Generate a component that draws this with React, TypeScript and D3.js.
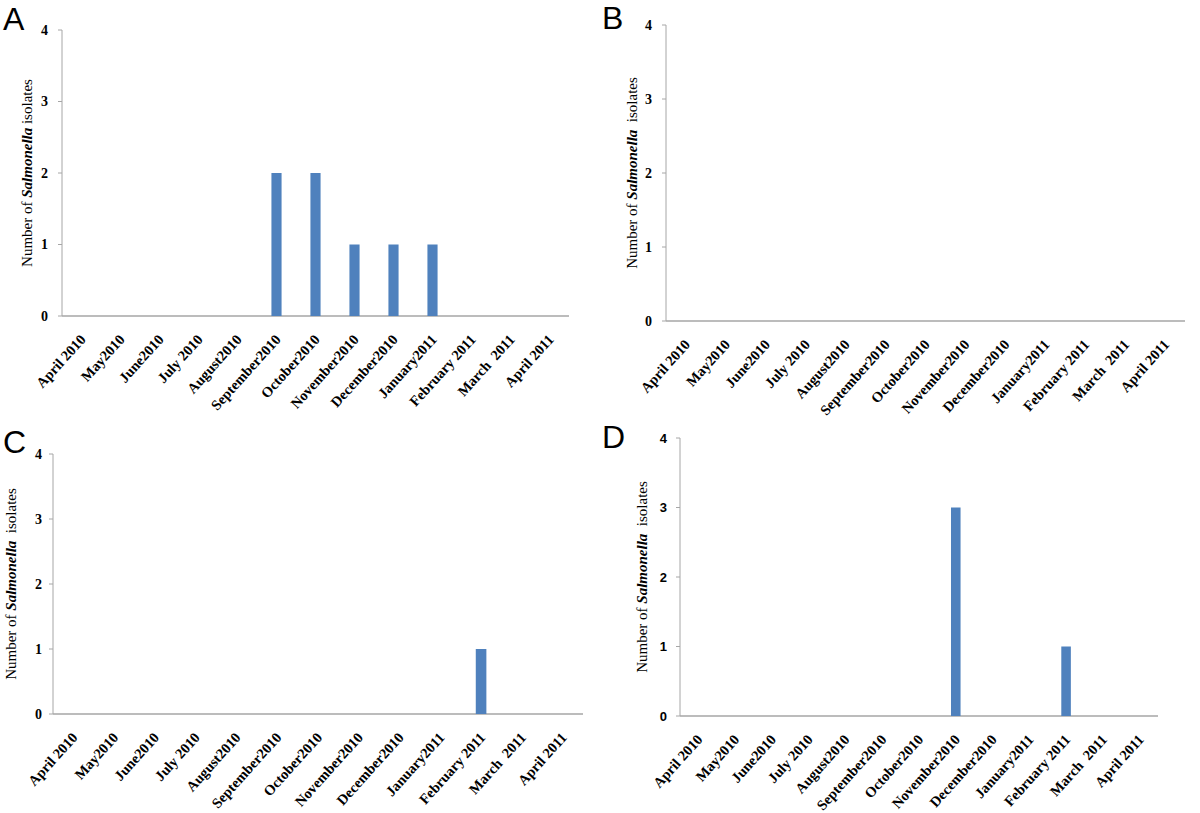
import React from "react";
import * as d3 from "d3";

const months = [
  "April 2010", "May2010", "June2010", "July 2010", "August2010", "September2010",
  "October2010", "November2010", "December2010", "January2011", "February 2011",
  "March  2011", "April 2011",
];
const yTicks = [0, 1, 2, 3, 4];
const valuesA = [0, 0, 0, 0, 0, 2, 2, 1, 1, 1, 0, 0, 0];
const valuesB = [0, 0, 0, 0, 0, 0, 0, 0, 0, 0, 0, 0, 0];
const valuesC = [0, 0, 0, 0, 0, 0, 0, 0, 0, 0, 1, 0, 0];
const valuesD = [0, 0, 0, 0, 0, 0, 0, 3, 0, 0, 1, 0, 0];

const panels = [
  { letter: "A", values: valuesA, x0: 62, x1: 569, top: 30, zero: 316, titleX: 32, lx: 3, ly: 30, tickOff: 14, sansTicks: false, gap: " " },
  { letter: "B", values: valuesB, x0: 666, x1: 1185, top: 25, zero: 321, titleX: 637, lx: 602, ly: 29, tickOff: 14, sansTicks: false, gap: "  " },
  { letter: "C", values: valuesC, x0: 53, x1: 583, top: 454, zero: 714, titleX: 16, lx: 3, ly: 453, tickOff: 11, sansTicks: false, gap: "  " },
  { letter: "D", values: valuesD, x0: 680, x1: 1158, top: 438, zero: 716, titleX: 647, lx: 602, ly: 448, tickOff: 13, sansTicks: true, gap: "  " },
];

const serif = "'Liberation Serif', 'Times New Roman', serif";
const sans = "'Liberation Sans', Arial, sans-serif";
const axisColor = "#a6a6a6";
const barColor = "#4f81bd";

function Panel({ p }: { p: typeof panels[number] }) {
  const x = d3.scaleBand<string>().domain(months).range([p.x0, p.x1]);
  const y = d3.scaleLinear().domain([0, 4]).range([p.zero, p.top]);
  const bw = x.bandwidth() * 0.26;
  const mid = (p.zero + p.top) / 2;
  return (
    <g>
      <text x={p.lx} y={p.ly} fontFamily={sans} fontSize={32} fill="#000">{p.letter}</text>
      <line x1={p.x0} x2={p.x0} y1={p.top} y2={p.zero} stroke={axisColor} strokeWidth={1} />
      <line x1={p.x0} x2={p.x1} y1={p.zero} y2={p.zero} stroke={axisColor} strokeWidth={1.5} />
      {yTicks.map((t) => (
        <g key={t}>
          <line x1={p.x0 - 4} x2={p.x0} y1={y(t)} y2={y(t)} stroke={axisColor} />
          <text
            x={p.x0 - p.tickOff}
            y={y(t)}
            dy="0.35em"
            textAnchor="end"
            fontFamily={p.sansTicks ? sans : serif}
            fontWeight="bold"
            fontSize={p.sansTicks ? 13 : 14}
          >
            {t}
          </text>
        </g>
      ))}
      {p.values.map((v, i) =>
        v > 0 ? (
          <rect
            key={i}
            x={(x(months[i]) as number) + x.bandwidth() / 2 - bw / 2}
            y={y(v)}
            width={bw}
            height={p.zero - y(v)}
            fill={barColor}
          />
        ) : null
      )}
      {months.map((m) => (
        <text
          key={m}
          transform={`translate(${(x(m) as number) + x.bandwidth() / 2 + 5},${p.zero + 24}) rotate(-48)`}
          textAnchor="end"
          fontFamily={serif}
          fontWeight="bold"
          fontSize={14.5}
          style={{ whiteSpace: "pre" }}
        >
          {m}
        </text>
      ))}
      <text
        transform={`translate(${p.titleX},${mid}) rotate(-90)`}
        textAnchor="middle"
        fontFamily={serif}
        fontSize={15}
        style={{ whiteSpace: "pre" }}
      >
        {"Number of "}
        <tspan fontStyle="italic" fontWeight="bold">Salmonella</tspan>
        {p.gap + "isolates"}
      </text>
    </g>
  );
}

export default function App() {
  return (
    <svg width={1200} height={813} style={{ position: "absolute", left: 0, top: 0, background: "#fff" }}>
      <rect width={1200} height={813} fill="#fff" />
      {panels.map((p) => (
        <Panel key={p.letter} p={p} />
      ))}
    </svg>
  );
}
